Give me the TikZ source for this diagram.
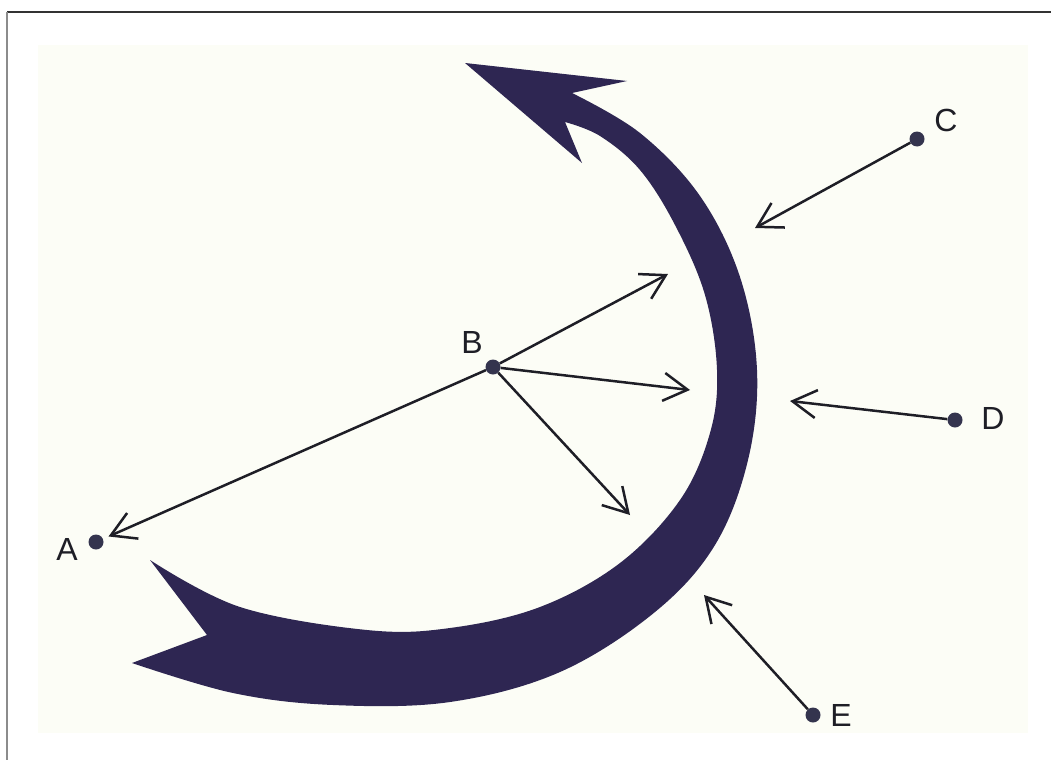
\documentclass[tikz,border=0pt]{standalone}
\usepackage{fontspec}
\setmainfont{Liberation Sans}
\usetikzlibrary{arrows.meta}
\definecolor{bandc}{RGB}{46,38,82}
\definecolor{ink}{RGB}{30,30,38}
\definecolor{dotc}{RGB}{52,52,78}
\definecolor{cream}{RGB}{252,253,246}
\tikzset{
  dotnode/.style={circle, fill=dotc, inner sep=0pt, minimum size=15pt},
  lbl/.style={font=\fontsize{32}{34}\selectfont, text=ink, inner sep=0pt},
  conn/.style={draw=ink, line width=2.5pt, -{Straight Barb[length=24pt,width=28pt,line width=2.5pt]}},
}
\begin{document}
\begin{tikzpicture}[x=1pt,y=-1pt]
\useasboundingbox (0,0) rectangle (1051,760);
\fill[white] (0,0) rectangle (1051,760);
\fill[cream] (38,45) rectangle (1028,733);
\draw[line width=2pt, draw={rgb,255:red,50;green,50;blue,50}] (7,12) -- (1051,12);
\draw[line width=2pt, draw={rgb,255:red,140;green,140;blue,140}] (7,12) -- (7,760);

% big curved arrow
\fill[bandc] (465,63) -- (627,81) -- (572,93)
 -- plot[smooth,tension=0.6] coordinates {(572,93) (640,133) (700,196) (740,277) (757,370) (748,460) (715,545) (655,612) (560,672) (450,702) (333,705) (233,693) (132,663)}
 -- (207,635) -- (150,560)
 -- plot[smooth,tension=0.6] coordinates {(150,560) (240,607) (367,630) (450,628) (540,607) (620,563) (680,500) (710,433) (717,370) (705,295) (675,225) (640,170) (600,136) (565,122)}
 -- (582,163) -- cycle;

% points
\node[dotnode] (A) at (96,542) {};
\node[dotnode] (B) at (493,367) {};
\node[dotnode] (C) at (917,139) {};
\node[dotnode] (D) at (955,420) {};
\node[dotnode] (E) at (813,715) {};

\node[lbl] (lA) at (67,549) {A};
\node[lbl] (lB) at (472,342) {B};
\node[lbl] (lC) at (946,120) {C};
\node[lbl] (lD) at (993,418) {D};
\node[lbl] (lE) at (841,715) {E};

% arrow tips
\coordinate (t1) at (668,274);
\coordinate (t2) at (690,390);
\coordinate (t3) at (630,515);
\coordinate (tC) at (755,228);
\coordinate (tD) at (790,401);
\coordinate (tE) at (704,595);

\draw[conn, shorten >=6pt] (B) -- (A);
\draw[conn] (B) -- (t1);
\draw[conn] (B) -- (t2);
\draw[conn] (B) -- (t3);
\draw[conn] (C) -- (tC);
\draw[conn] (D) -- (tD);
\draw[conn] (E) -- (tE);
\end{tikzpicture}
\end{document}
